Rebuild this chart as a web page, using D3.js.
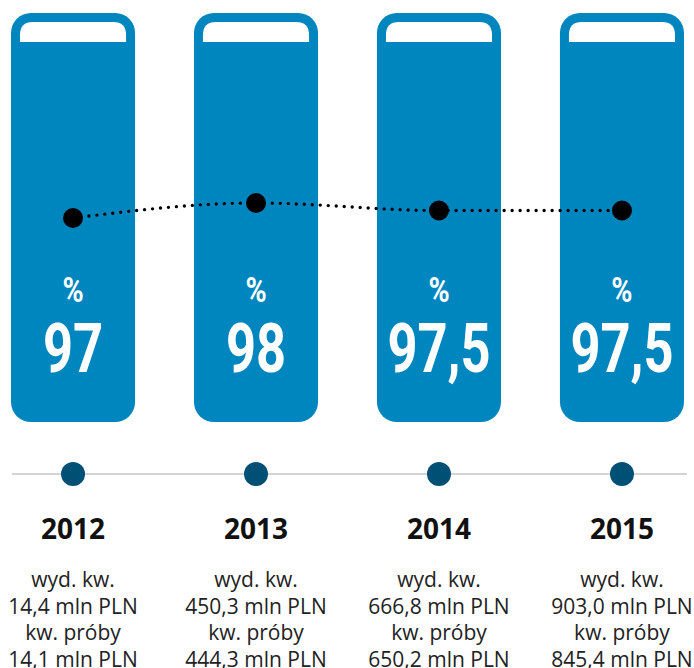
<!DOCTYPE html>
<html><head><meta charset="utf-8">
<script src="https://cdn.jsdelivr.net/npm/d3@7"></script>
<style>
html,body{margin:0;padding:0;background:#fff;}
svg{display:block;}
</style></head>
<body>
<script>
const years = ["2012","2013","2014","2015"];
const values = [97, 98, 97.5, 97.5];
const valueLabels = ["97","98","97,5","97,5"];
const spendLabels = ["14,4 mln PLN","450,3 mln PLN","666,8 mln PLN","903,0 mln PLN"];
const sampleLabels = ["14,1 mln PLN","444,3 mln PLN","650,2 mln PLN","845,4 mln PLN"];
const line1 = "wyd. kw.";
const line3 = "kw. próby";

const W = 694, H = 668;
const svg = d3.select("body").append("svg").attr("width", W).attr("height", H);

const x = d3.scaleBand().domain(years).range([11, 684]).paddingInner(0.322).paddingOuter(0);
const bw = x.bandwidth();
const cx = d => x(d) + bw / 2;
const y = d3.scaleLinear().domain([97, 98]).range([218, 203]);

const barTop = 13, barBottom = 422, r = 20;
const blue = "#0086bf";

const g = svg.selectAll("g.bar").data(years).join("g").attr("class", "bar");

g.append("rect")
  .attr("x", d => x(d)).attr("y", barTop)
  .attr("width", bw).attr("height", barBottom - barTop)
  .attr("rx", r).attr("ry", r).attr("fill", blue);

// white cap
g.append("path")
  .attr("fill", "#fff")
  .attr("d", d => {
    const l = x(d) + 9, rr = x(d) + bw - 9, t = 22, b = 42, c = 13;
    return `M${l},${b} L${l},${t + c} Q${l},${t} ${l + c},${t} L${rr - c},${t} Q${rr},${t} ${rr},${t + c} L${rr},${b} Z`;
  });

// percent sign
g.append("text")
  .attr("transform", d => `translate(${cx(d)},302) scale(0.82,1)`)
  .attr("text-anchor", "middle")
  .attr("fill", "#fff")
  .style("font-family", "Roboto,sans-serif")
  .style("font-weight", "700").style("font-size", "35px")
  .text("%");

g.append("text")
  .attr("transform", d => `translate(${cx(d)},372) scale(0.76,1)`)
  .attr("text-anchor", "middle")
  .attr("fill", "#fff")
  .style("font-family", "Roboto,sans-serif")
  .style("font-weight", "700").style("font-size", "69px")
  .text((d, i) => valueLabels[i]);

// dotted line
const pts = years.map((d, i) => [cx(d), y(values[i])]);
svg.append("path")
  .attr("d", d3.line().curve(d3.curveMonotoneX)(pts))
  .attr("fill", "none").attr("stroke", "#000")
  .attr("stroke-width", 3.4).attr("stroke-linecap", "round")
  .attr("stroke-dasharray", "0,8");

svg.selectAll("circle.val").data(pts).join("circle")
  .attr("class", "val")
  .attr("cx", d => d[0]).attr("cy", d => d[1]).attr("r", 10).attr("fill", "#000");

// timeline
svg.append("line").attr("x1", 12).attr("x2", 687).attr("y1", 474).attr("y2", 474)
  .attr("stroke", "#c6c6c6").attr("stroke-width", 1.5);
svg.selectAll("circle.tl").data(years).join("circle")
  .attr("class", "tl")
  .attr("cx", d => cx(d)).attr("cy", 474).attr("r", 12).attr("fill", "#004f74");

// year labels
svg.selectAll("text.year").data(years).join("text")
  .attr("class", "year")
  .attr("x", d => cx(d)).attr("y", 539)
  .attr("text-anchor", "middle").attr("fill", "#111")
  .style("font-family", "'Open Sans',sans-serif")
  .style("font-weight", "700").style("font-size", "28px")
  .text(d => d);

const sub = svg.selectAll("text.sub").data(years).join("text")
  .attr("class", "sub")
  .attr("text-anchor", "middle").attr("fill", "#222")
  .style("font-family", "'Open Sans',sans-serif")
  .style("font-size", "21px");
const lines = (i) => [line1, spendLabels[i], line3, sampleLabels[i]];
sub.each(function(d, i) {
  d3.select(this).selectAll("tspan").data(lines(i)).join("tspan")
    .attr("x", cx(d)).attr("y", (t, j) => 587 + j * 26.7)
    .text(t => t);
});
</script>
</body></html>
